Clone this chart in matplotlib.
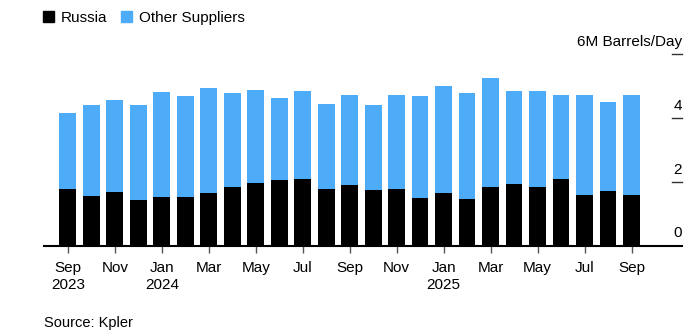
import matplotlib.pyplot as plt
import matplotlib.transforms as mtransforms
from matplotlib.patches import Patch

plt.rcParams['font.family'] = ['Liberation Sans', 'DejaVu Sans']

# Monthly imports, million barrels per day (Sep 2023 - Sep 2025)
months = ['Sep', 'Oct', 'Nov', 'Dec', 'Jan', 'Feb', 'Mar', 'Apr', 'May', 'Jun', 'Jul', 'Aug',
          'Sep', 'Oct', 'Nov', 'Dec', 'Jan', 'Feb', 'Mar', 'Apr', 'May', 'Jun', 'Jul', 'Aug', 'Sep']
years = {0: '2023', 4: '2024', 16: '2025'}
russia = [1.78, 1.58, 1.68, 1.45, 1.52, 1.54, 1.67, 1.86, 1.96, 2.08, 2.10, 1.77, 1.90,
          1.75, 1.79, 1.49, 1.67, 1.48, 1.86, 1.95, 1.86, 2.10, 1.60, 1.71, 1.60]
total = [4.17, 4.42, 4.57, 4.43, 4.83, 4.71, 4.96, 4.80, 4.90, 4.63, 4.86, 4.44, 4.72,
         4.41, 4.72, 4.69, 5.01, 4.80, 5.27, 4.87, 4.87, 4.72, 4.74, 4.52, 4.73]
other = [t - r for t, r in zip(total, russia)]
y_ticks = [0, 2, 4, 6]

black = '#000000'
blue = '#4dabf7'

fig = plt.figure(figsize=(7, 3.36), dpi=100)
ax = fig.add_axes([0.063, 0.268, 0.911, 0.570])

x = list(range(len(months)))
ax.bar(x, russia, width=0.71, color=black, zorder=2)
ax.bar(x, other, bottom=russia, width=0.71, color=blue, zorder=2)

ax.set_xlim(-1.01, 26.14)
ax.set_ylim(0, 6)

for s in ['top', 'right', 'left']:
    ax.spines[s].set_visible(False)
ax.spines['bottom'].set_linewidth(1.5)
ax.spines['bottom'].set_zorder(3)
ax.set_yticks([])

# x ticks on every other month, with year under the first month of each year
ticks = x[::2]
labels = [months[i] + ('\n' + years[i] if i in years else '') for i in ticks]
ax.set_xticks(ticks)
ax.set_xticklabels(labels, fontsize=11, linespacing=1.35, va='top')
ax.tick_params(axis='x', length=5, width=1, color='#555555', pad=5.5)

# right-side value scale: short tick marks with labels above
trans = mtransforms.blended_transform_factory(ax.transAxes, ax.transData)
for v in y_ticks:
    if v > 0:
        ax.plot([0.984, 1.0], [v, v], color='#333333', lw=1, transform=trans,
                clip_on=False, zorder=3)
    lab = '6M Barrels/Day' if v == 6 else str(v)
    ax.annotate(lab, xy=(1.0, v), xycoords=trans, xytext=(0, 4),
                textcoords='offset points', ha='right', va='bottom', fontsize=11)

handles = [Patch(color=black, label='Russia'), Patch(color=blue, label='Other Suppliers')]
fig.legend(handles=handles, loc='upper left', bbox_to_anchor=(0.062, 0.968), ncol=2,
           frameon=False, fontsize=11, handlelength=0.7, handleheight=0.7,
           handletextpad=0.45, columnspacing=0.9, borderpad=0, borderaxespad=0)

fig.text(0.063, 0.04, 'Source: Kpler', fontsize=10.5, va='center')

fig.savefig('out.png', dpi=100)
